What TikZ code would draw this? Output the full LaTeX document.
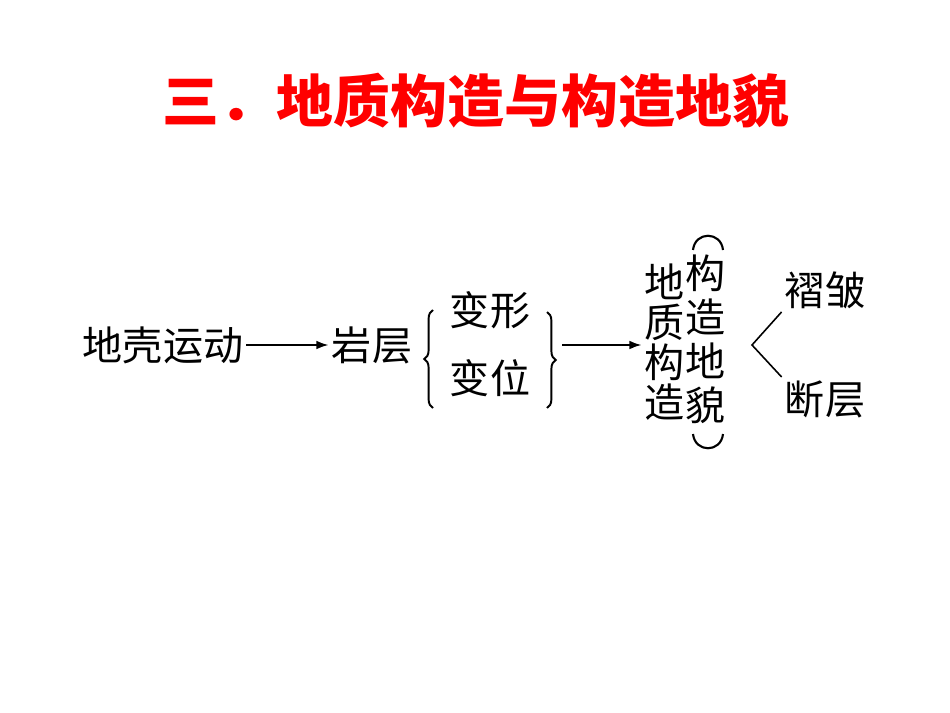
\documentclass[tikz,border=0pt]{standalone}
\usepackage{fontspec}
\setmainfont{Noto Sans CJK SC}
\usetikzlibrary{arrows.meta,positioning,decorations.pathreplacing}
\tikzset{
  basic/.style  = {inner sep=1.7pt, font=\fontsize{22.8}{22.8}\selectfont},
  title/.style  = {inner sep=0pt, text=red, font=\fontsize{32.4}{32.4}\selectfont\bfseries},
  word/.style   = {basic},
  column/.style = {basic, align=center},
  flow/.style   = {-{Latex[length=7pt,width=5pt]}, line width=1.1pt},
  curly/.style  = {decorate, decoration={brace, amplitude=5pt}, line width=1.1pt},
  bow/.style    = {line width=1.2pt},
  fork/.style   = {line width=0.9pt}
}

\begin{document}
\begin{tikzpicture}[x=0.02cm, y=-0.02cm]
\useasboundingbox (0,0) rectangle (950,713);

% heading
\node[title] (head) at (476,101) {三．地质构造与构造地貌};

% the chain, left to right
\node[word] (crust) at (163,345) {地壳运动};
\node[word] (rock) at (372,345) {岩层};
\node[word] (deform) at (490,310) {变形};
\node[word, below of=deform, node distance=1.36cm] (displace) {变位};

% the two columns
\node[column] (geo) at (665,342) {地\\质\\构\\造};
\node[column, font=\fontsize{22.8}{25}\selectfont] (landform) at (706,339) {构\\造\\地\\貌};

\node[word] (fold) at (825,290) {褶皱};
\node[word, below of=fold, node distance=2.18cm] (fault) {断层};

% braces round deform / displace
\draw[curly] (433,408) -- (433,310);
\draw[curly] (547,312) -- (547,408);
\coordinate (rtip) at (562,345);

% parentheses round the landform column
\draw[bow] (693,250) .. controls (695,231) and (721,231) .. (723,250);
\draw[bow] (693,434) .. controls (695,453) and (721,453) .. (723,434);

% arrows
\draw[flow] (crust) -- (rock);
\draw[flow] (rtip) -- (rtip -| geo.west);

% the fork
\coordinate (split) at (752,345);
\draw[fork] (fold.south west) -- (split) -- (fault.north west);

\end{tikzpicture}
\end{document}
